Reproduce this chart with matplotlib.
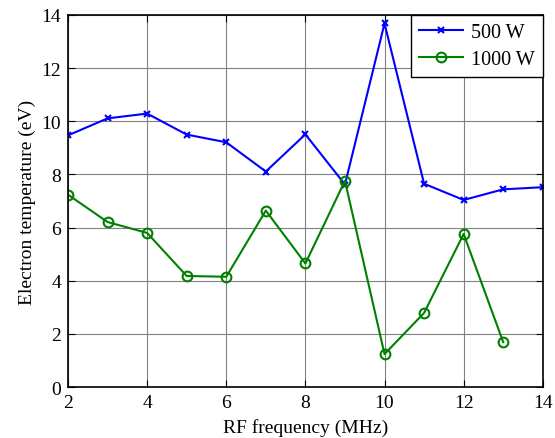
import matplotlib
matplotlib.use('Agg')
import matplotlib.pyplot as plt

plt.rcParams['font.family'] = ['Liberation Serif', 'DejaVu Serif']
plt.rcParams['mathtext.fontset'] = 'stix'

freq = [2, 3, 4, 5, 6, 7, 8, 9, 10, 11, 12, 13, 14]
te_500 = [9.47, 10.11, 10.29, 9.50, 9.21, 8.11, 9.51, 7.62, 13.68, 7.65, 7.04, 7.44, 7.52]
freq_1000 = [2, 3, 4, 5, 6, 7, 8, 9, 10, 11, 12, 13]
te_1000 = [7.24, 6.21, 5.80, 4.18, 4.15, 6.64, 4.65, 7.76, 1.24, 2.79, 5.76, 1.69]

fig = plt.figure(figsize=(5.55, 4.39), dpi=100)
ax = fig.add_axes([0.1225, 0.116, 0.8555, 0.8476])

ax.plot(freq, te_500, color='#0000ff', lw=1.5, marker='x', ms=4, mew=1.5, label='500 W')
ax.plot(freq_1000, te_1000, color='#008000', lw=1.5, marker='o', ms=7, mfc='none', mew=1.5, label='1000 W')

ax.set_xlim(2, 14)
ax.set_ylim(0, 14)
ax.set_xticks(range(2, 15, 2))
ax.set_yticks(range(0, 15, 2))
ax.grid(True, color='#808080', lw=0.8)
ax.tick_params(direction='in', labelsize=14, length=5, top=True, right=True, pad=5)
for s in ax.spines.values():
    s.set_linewidth(1.2)

ax.set_xlabel('RF frequency (MHz)', fontsize=14, labelpad=5)
ax.set_ylabel('Electron temperature (eV)', fontsize=14, labelpad=4)

leg = ax.legend(loc='upper right', fontsize=14.5, fancybox=False, framealpha=1,
                edgecolor='black', borderaxespad=0, handlelength=2.2,
                borderpad=0.4, labelspacing=0.4, handletextpad=0.4)
leg.get_frame().set_linewidth(1.0)

fig.savefig('out.png', dpi=100)
